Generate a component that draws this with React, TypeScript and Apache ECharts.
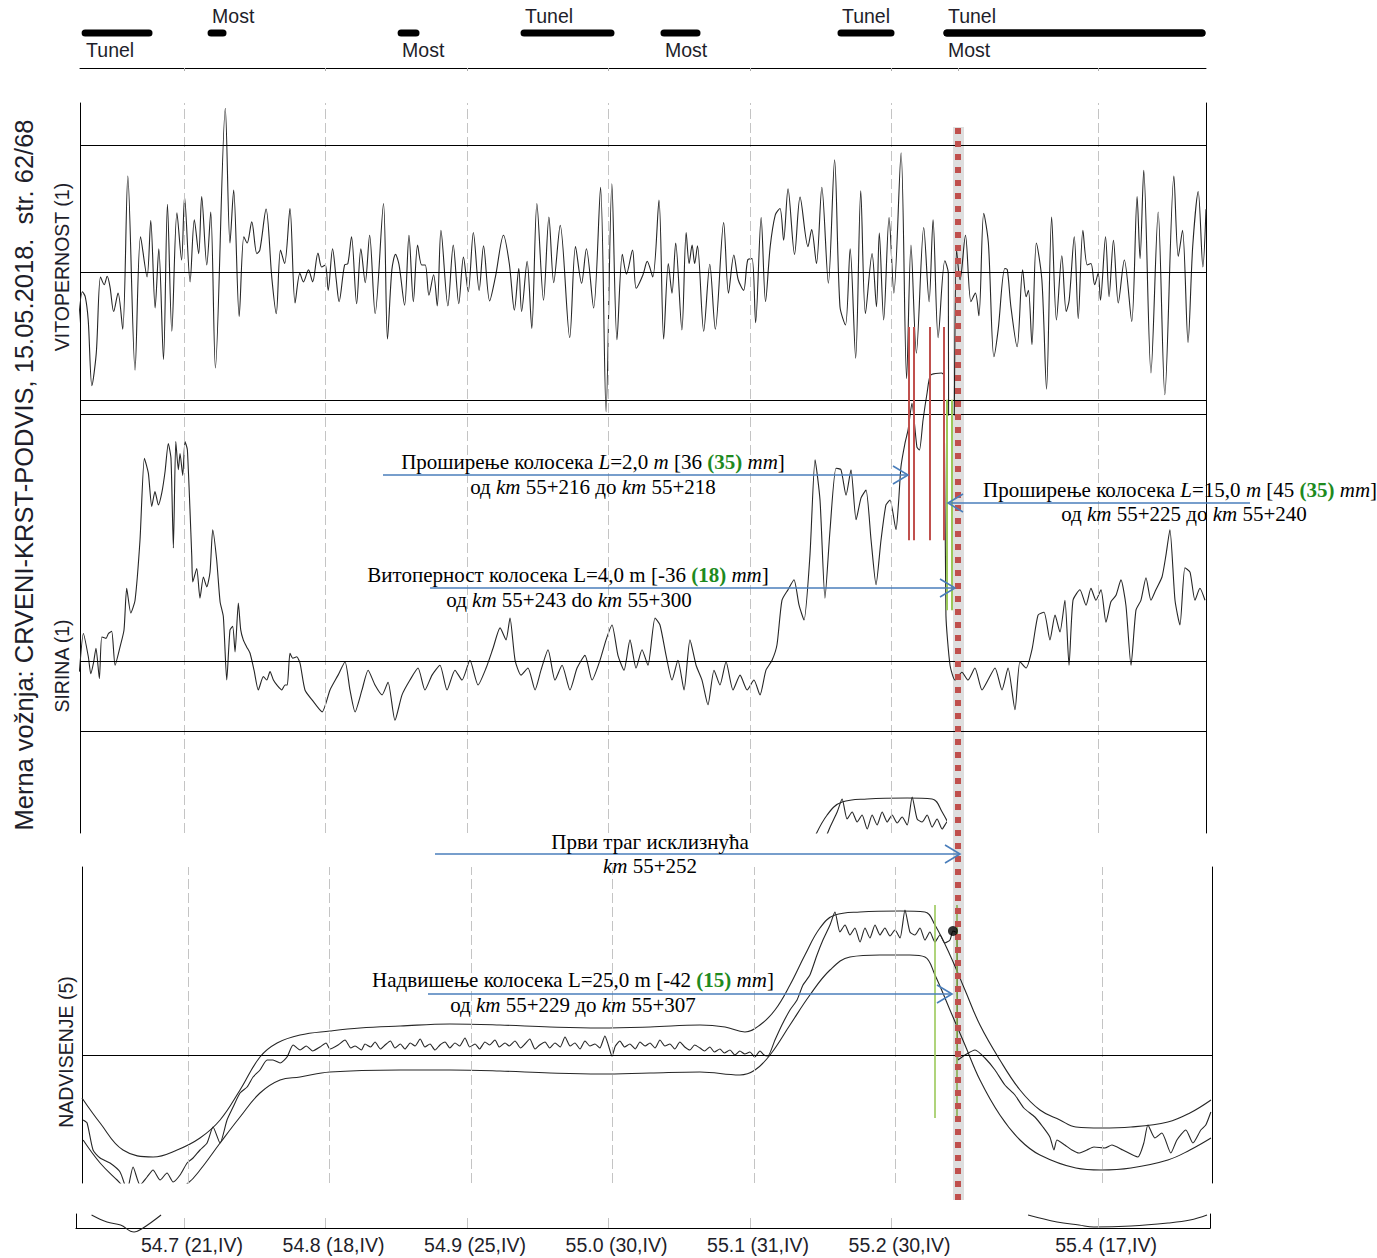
import React, { useEffect, useRef } from "react";
import * as echarts from "echarts";

// ---------- axis posts (chainage in m from km 54+000) ----------
const postKm = [700, 800, 900, 1000, 1100, 1200, 1346];
const postLabels = ["54.7 (21,IV)", "54.8 (18,IV)", "54.9 (25,IV)", "55.0 (30,IV)", "55.1 (31,IV)", "55.2 (30,IV)", "55.4 (17,IV)"];

// ---------- structures band ----------
const structStart = [628.0, 717.0, 851.3, 938.2, 1037.1, 1162.2, 1237.1, 1237.1];
const structEnd = [677.4, 729.7, 866.1, 1003.9, 1064.7, 1201.8, 1421.6, 1421.6];
const structName = ["Tunel", "Most", "Most", "Tunel", "Most", "Tunel", "Tunel", "Most"];
const structSide = [-1, 1, -1, 1, -1, 1, 1, -1];

// ---------- limits ----------
const twistLimits = [18, 0, -18];
const gaugeLimits = [35, 0, -10];
const cantLimits = [0];

// ---------- marks ----------
const redFlagKm = [1212.4, 1215.9, 1227.2, 1237.1];
const redFlagRange = [17.1, 47.3];
const greenGaugeKm = [1239.2, 1242.8];
const greenGaugeRange = [7.2, 37.0];
const greenCantKm = [1227.9, 1243.4];
const greenCantRange = [-63, 150];
const derailKm = 1247;
const cantDot = [1240.6, 124];

// ---------- VITOPERNOST (twist, mm) ----------
const twistData = [
[625.1,-8.1],[628.2,-2.7],[630.2,-3.4],[632.3,-6.7],[634.9,-16.0],[638.0,-11.4],[641.0,-0.6],[643.6,-1.7],[645.7,-0.5],[647.7,-2.0],[650.3,-5.5],[653.4,-2.9],[656.7,-8.0],[660.3,13.7],[665.4,-13.8],[669.3,5.1],[673.9,-0.6],[676.5,7.4],[679.6,-5.0],[682.2,3.4],[685.5,-12.3],[688.3,9.7],[691.4,-8.3],[695.0,8.5],[698.3,1.8],[700.4,10.7],[704.3,-1.3],[707.3,7.5],[710.4,2.7],[712.5,10.8],[716.1,1.1],[718.9,8.6],[722.2,-13.5],[729.2,23.3],[732.5,4.2],[735.1,11.7],[739.0,-6.2],[742.3,5.1],[744.6,4.2],[747.9,7.2],[751.5,2.7],[753.6,3.2],[758.0,9.0],[762.1,-0.8],[765.2,-5.8],[768.2,3.2],[771.1,1.3],[774.9,9.1],[778.5,-4.3],[781.9,-0.1],[784.4,-1.3],[788.0,0.4],[790.9,-1.3],[794.7,2.8],[797.3,0.8],[799.9,1.1],[801.9,-2.5],[805.0,3.4],[807.6,-1.0],[809.6,-4.1],[813.5,1.1],[815.8,1.3],[818.4,5.1],[822.0,-4.4],[825.0,3.4],[828.1,-1.4],[831.2,5.3],[835.1,-5.8],[841.0,9.8],[843.8,-9.4],[846.9,0.4],[849.5,2.6],[852.0,1.1],[855.9,-4.6],[859.0,5.3],[862.1,-4.1],[865.1,3.9],[868.0,1.1],[870.5,1.1],[873.1,-3.2],[876.4,-0.3],[879.0,-4.7],[881.6,6.0],[886.5,-4.7],[890.3,3.9],[894.2,-4.4],[897.5,2.2],[900.9,-2.7],[904.5,5.7],[908.6,-2.5],[911.7,3.8],[916.0,-4.0],[920.1,-0.6],[925.8,5.3],[929.9,1.3],[933.5,-5.3],[936.6,0.6],[938.6,-5.5],[942.5,1.6],[945.8,-7.9],[949.4,9.8],[954.1,-3.9],[957.9,7.9],[961.3,-1.4],[965.9,6.7],[972.6,-9.2],[976.7,3.7],[981.0,-1.5],[984.4,3.4],[989.5,-5.0],[994.4,12.1],[998.3,-19.7],[1002.4,12.6],[1006.0,-9.5],[1009.8,2.6],[1012.7,-0.2],[1017.0,3.2],[1019.6,-2.2],
[1024.4,-0.3],[1027.4,1.6],[1031.3,-0.6],[1035.7,10.3],[1039.0,-9.4],[1042.3,1.3],[1044.9,-2.9],[1047.5,4.2],[1051.9,-8.1],[1054.9,5.7],[1057.0,1.3],[1059.1,3.9],[1060.9,1.3],[1062.9,3.8],[1067.3,-8.3],[1071.6,1.2],[1075.5,-8.0],[1081.4,7.1],[1084.8,-2.9],[1088.6,2.5],[1091.7,-1.0],[1095.5,-2.5],[1098.4,1.8],[1101.5,2.0],[1104.0,-7.1],[1107.9,7.8],[1111.0,-4.1],[1114.3,3.7],[1117.9,8.2],[1121.2,9.1],[1123.8,4.6],[1126.9,11.9],[1131.5,2.6],[1135.4,10.7],[1141.0,3.7],[1143.6,6.1],[1147.0,1.3],[1150.8,12.1],[1155.4,-1.5],[1159.8,16.0],[1163.6,-4.8],[1167.5,-7.4],[1170.8,3.4],[1174.7,-12.1],[1178.3,11.6],[1181.6,-5.8],[1186.3,2.7],[1189.4,-4.8],[1191.4,5.6],[1194.5,-6.7],[1198.3,7.8],[1201.7,-2.9],[1206.8,17.0],[1210.7,-15.0],[1213.8,3.9],[1217.6,-11.4],[1222.8,6.4],[1226.6,-4.1],[1229.4,7.5],[1233.0,-9.2],[1237.7,1.7],[1240.2,-0.1],[1240.5,-36],[1243.0,-36],[1246.0,3.2],[1248.5,-1.0],[1252.3,5.3],[1256.2,-4.1],[1259.3,-2.9],[1261.8,-6.1],[1265.2,8.4],[1268.5,4.2],[1272.4,-11.9],[1275.4,-8.1],[1280.1,0.6],[1281.9,0.4],[1284.4,-4.8],[1288.8,-10.5],[1292.7,0.4],[1295.2,-3.4],[1296.8,-2.5],[1299.3,-10.2],[1302.4,4.2],[1306.3,-1.0],[1309.6,-16.5],[1313.2,7.9],[1316.6,-6.7],[1320.4,2.4],[1323.5,-5.5],[1325.6,-3.9],[1329.2,5.1],[1332.0,-6.5],[1335.3,6.0],[1338.4,1.1],[1341.0,1.3],[1343.6,-1.7],[1346.1,-0.1],[1347.7,-3.9],[1351.3,5.1],[1353.8,-3.4],[1356.9,4.6],[1360.3,-4.3],[1364.6,1.8],[1369.8,-6.9],[1373.6,10.8],[1375.7,2.0],[1378.3,14.5],[1383.4,-14.2],[1388.5,8.6],[1393.2,-17.3],[1399.6,13.7],[1402.7,2.3],[1405.7,6.0],[1409.6,-9.9],[1412.9,3.7],[1416.8,11.5],[1420.1,0.8],[1422.3,9.0]
];

// ---------- SIRINA (gauge, mm) ----------
const gaugeData = [
[626.1,-1.5],[628.9,3.9],[632.4,0.6],[634.1,-1.8],[636.0,-0.3],[637.8,1.8],[640.2,-2.5],[641.9,3.4],[644.9,3.2],[646.6,3.9],[648.9,4.2],[651.3,-0.6],[654.8,2.0],[657.6,4.4],[659.5,10.3],[662.4,6.8],[665.4,8.6],[668.9,17.1],[672.0,28.7],[674.8,26.6],[677.2,21.9],[679.5,24.0],[681.9,22.1],[684.3,23.8],[686.6,26.8],[688.9,30.8],[690.8,28.7],[692.5,16.0],[694.2,31.1],[696.0,27.1],[697.2,29.4],[699.1,26.3],[700.7,31.1],[702.4,29.9],[705.5,14.8],[706.2,11.2],[709.0,13.1],[711.3,8.9],[713.7,11.9],[716.1,10.5],[718.4,12.6],[720.3,18.6],[723.1,14.3],[725.5,8.4],[727.8,6.3],[730.2,-2.7],[732.5,4.4],[734.4,4.9],[736.1,1.3],[738.4,8.2],[740.1,4.4],[741.9,3.0],[744.3,2.0],[746.7,1.1],[749.5,-1.3],[752.5,-4.1],[756.1,-2.2],[758.5,-2.7],[760.8,-1.5],[763.2,-2.7],[766.0,-3.5],[769.1,-4.1],[771.4,-3.4],[773.0,-3.4],[774.9,1.1],[776.9,0.4],[779.7,0.6],[782.0,-0.3],
[785.5,-4.1],[790.5,-5.5],[797.6,-7.2],[803.2,-4.1],[808.9,-2.0],[813.8,-0.1],[817.3,-4.1],[820.9,-7.2],[825.8,-4.1],[830.1,-1.3],[835.0,-3.4],[840.0,-4.8],[844.2,-3.0],[849.1,-8.4],[854.1,-4.8],[859.7,-2.7],[865.4,-1.0],[870.3,-4.1],[875.3,-2.0],[880.9,-0.6],[885.9,-4.1],[891.5,-1.3],[896.5,-2.7],[902.1,0.1],[907.8,-3.4],[913.5,-1.0],[918.4,1.8],[923.4,4.7],[927.6,3.0],[930.4,6.1],[934.0,0.1],[938.2,-2.0],[943.1,-1.0],[948.1,-4.1],[952.3,-1.3],[957.3,1.6],[962.2,-2.7],[967.2,-0.6],[972.8,-4.1],[977.8,-1.0],[983.4,0.8],[988.4,-2.7],[994.0,0.1],[998.3,3.0],[1002.5,5.1],[1006.7,0.8],[1011.0,-1.3],[1015.2,3.0],[1019.5,-1.0],[1023.7,1.6],[1027.9,-0.6],[1032.9,6.1],[1036.4,5.1],[1040.7,0.8],[1044.9,-2.7],[1049.1,0.1],[1053.4,-4.1],[1057.6,3.0],[1061.9,-0.6],[1066.1,-2.7],[1070.3,-6.2],[1074.6,-1.3],[1078.8,-3.4],[1083.1,-0.1],[1088.0,-4.1],[1093.0,-2.0],[1098.0,-4.1],[1102.8,-2.7],[1107.1,-4.8],[1111.3,-1.3],[1115.6,0.1],[1119.1,2.3],[1122.6,8.6],[1126.9,10.1],[1131.1,11.5],[1134.7,7.9],[1138.2,5.8],[1142.4,15.0],[1146.0,28.5],[1149.5,22.8],[1153.0,8.9],[1156.6,18.6],[1160.8,27.3],[1164.3,27.1],[1167.9,23.5],[1171.4,27.1],[1175.0,20.0],[1178.5,23.1],[1182.0,24.2],[1185.6,17.1],[1189.1,10.8],[1192.6,17.1],[1196.1,22.1],[1199.0,22.8],[1203.2,18.6],[1205.0,22.4],[1206.7,27.5],[1209.6,30.9],[1211.7,32.7],[1214.5,36.5],[1218.0,30.3],[1219.8,29.9],[1222.3,34.1],[1225.2,38.0],[1227.6,40.5],[1235.4,40.8],[1237.1,40.5],[1238.5,6.5],[1241.4,-0.6],[1244.9,-2.7],[1249.8,-1.6],[1254.1,-2.7],[1259.0,-1.0],[1264.0,-4.1],[1268.2,-2.7],[1273.2,-1.0],[1278.1,-4.1],[1282.4,-1.0],[1287.3,-6.9],[1290.8,-0.1],[1295.1,-1.0],[1299.3,1.6],[1303.6,6.5],[1307.8,6.9],[1312.0,3.0],[1315.6,6.5],[1319.1,4.1],[1322.6,8.6],[1325.5,-0.6],[1328.3,8.6],[1333.2,10.1],[1337.5,7.9],[1341.0,10.3],[1344.5,8.6],[1348.1,10.1],[1351.6,5.5],[1355.1,8.4],[1358.7,9.3],[1362.2,11.5],[1365.7,7.9],[1369.3,-0.6],[1372.8,7.2],[1376.3,8.6],[1379.9,11.8],[1383.4,8.6],[1386.9,10.1],[1391.2,11.9],[1394.0,15.0],[1396.8,18.6],[1400.4,8.6],[1403.9,5.1],[1407.4,13.2],[1411.0,12.6],[1414.5,8.6],[1418.0,10.3],[1421.6,8.6]
];

// ---------- NADVISENJE (cant, mm) ----------
const cantUpper = [
[625.0,-43],[637.8,-68],[654.0,-95],[675.2,-102],[692.2,-95],[708.4,-83],[722.6,-65],[736.7,-35],[750.8,-2],[762.9,12],[779.1,20],[800.3,24],[821.5,27],[849.8,29],[885.1,31],[920.4,30],[955.8,28],[991.1,27],[1026.5,28],[1061.8,30],[1079.5,28],[1093.6,23],[1104.2,30],[1114.8,45],[1125.4,70],[1136.0,100],[1146.6,127],[1157.2,140],[1174.9,143],[1203.2,144],[1220.8,143],[1227.9,130],[1238.5,100],[1249.1,65],[1259.7,30],[1273.8,-5],[1288.0,-35],[1302.1,-55],[1316.2,-65],[1327.5,-72],[1345.2,-73],[1366.4,-72],[1392.5,-67],[1408.1,-58],[1423.0,-45]
];
const cantLower = [
[625.8,-85],[637.8,-108],[649.8,-125],[659.0,-137],[680.2,-145],[700.0,-128],[708.4,-115],[722.6,-88],[736.7,-62],[750.8,-38],[765.0,-25],[779.1,-22],[800.3,-17],[849.8,-15],[885.1,-15],[920.4,-16],[955.8,-18],[991.1,-19],[1026.5,-18],[1061.8,-17],[1090.0,-20],[1100.7,-15],[1111.3,0],[1125.4,30],[1139.5,60],[1153.7,85],[1167.8,98],[1189.0,100],[1210.2,100],[1220.8,98],[1227.9,80],[1238.5,45],[1249.1,10],[1259.7,-25],[1273.8,-60],[1288.0,-85],[1302.1,-100],[1327.5,-113],[1345.2,-115],[1366.4,-113],[1392.5,-105],[1408.1,-95],[1423.0,-83]
];
const cantCenter = [
[625.8,-65],[628.6,-68],[632.8,-95],[637.8,-103],[644.8,-108],[651.9,-117],[656.9,-135],[661.1,-112],[666.0,-130],[671.0,-122],[675.2,-115],[680.2,-125],[685.1,-118],[689.4,-127],[694.3,-120],[699.3,-108],[703.5,-103],[708.4,-95],[713.4,-88],[717.6,-72],[722.6,-88],[727.5,-65],[731.8,-52],[736.7,-38],[741.7,-32],[745.9,-22],[750.8,-15],[755.8,-5],[760.0,-5],[765.0,-8],[769.9,-2],[774.2,10],
[779.1,5],[783.5,9],[788.0,4],[793.2,8],[797.5,12],[800.3,6],[806.0,10],[810.9,15],[815.0,7],[818.0,9],[822.5,5],[825.0,11],[829.0,8],[832.1,13],[836.0,6],[839.2,10],[843.0,14],[846.2,7],[850.0,11],[853.3,6],[857.0,12],[860.4,9],[864.0,16],[867.4,8],[871.0,11],[874.5,5],[878.0,10],[881.6,13],[885.0,7],[888.6,12],[892.0,9],[895.7,17],[899.0,8],[902.8,11],[906.0,6],[909.8,13],[913.0,10],[916.9,15],[920.0,8],[924.0,12],[927.0,9],[931.0,14],[935.0,7],[938.1,11],[941.5,16],[945.2,6],[948.5,10],[952.3,13],[955.5,7],[959.3,12],[963.0,8],[966.4,18],[970.0,9],[973.4,12],[977.0,6],[980.5,14],[984.0,9],[987.6,11],[991.0,7],[994.6,19],[997.0,10],[999.6,-1],[1002.0,9],[1005.2,14],[1008.5,8],[1012.3,11],[1016.0,6],[1019.4,13],[1023.0,9],[1026.5,12],[1030.0,7],[1033.5,15],[1037.0,9],[1040.6,11],[1044.0,6],[1047.6,13],[1051.0,8],[1054.7,5],[1058.0,10],[1061.8,7],[1065.0,4],[1068.8,8],[1072.0,3],[1075.9,6],[1079.0,2],[1083.0,5],[1086.5,0],[1090.0,4],[1093.5,1],[1097.1,3],[1100.5,-2],[1104.2,4],[1107.0,0],[1109.8,-1],
[1114.8,15],[1119.7,30],[1125.4,45],[1130.4,55],[1134.6,70],[1139.5,80],[1144.5,100],[1148.7,115],[1153.7,130],[1157.2,143],[1160.7,123],[1164.3,130],[1167.8,120],[1171.3,127],[1174.9,113],[1178.4,127],[1181.9,117],[1185.5,130],[1189.0,120],[1192.5,127],[1196.1,119],[1199.6,125],[1203.2,117],[1206.7,145],[1210.2,123],[1213.7,120],[1217.3,127],[1220.8,115],[1224.3,123],[1227.9,113],[1231.4,120],[1234.9,112],[1238.5,115],[1240.6,124],[1243.4,122],[1244.1,-5],[1249.1,0],[1256.2,5],[1263.2,-3],[1270.3,-15],[1277.3,-30],[1284.4,-40],[1290.7,-53],[1298.5,-62],[1304.2,-72],[1309.1,-82],[1312.0,-95],[1314.1,-85],[1319.7,-90],[1324.7,-95],[1329.6,-98],[1335.3,-95],[1340.2,-92],[1348.0,-93],[1352.9,-90],[1360.7,-95],[1371.3,-102],[1375.5,-88],[1378.4,-70],[1383.3,-83],[1388.3,-78],[1394.6,-98],[1398.9,-85],[1405.2,-75],[1410.2,-88],[1415.8,-75],[1419.3,-70],[1422.9,-57]
];

// ---------- cut-off curve pieces along the bottom axis ----------
const bottomLeftPiece = [[634.7,13],[645.6,6],[655.2,3],[664.7,-4],[671.1,0],[683.8,13]];
const bottomRightPiece = [[1296.5,13],[1317.0,6],[1332.5,3],[1343.1,1],[1369.3,2],[1395.4,5],[1411.0,8],[1423.0,13]];

const SANS = '"Liberation Sans", Arial, sans-serif';
const SERIF = '"Liberation Serif", "Times New Roman", serif';
const SIGNAL = "#262626";
const RED = "#c0504d";
const GREEN = "#9bc95a";
const BLUE = "#4a7ebb";
const INK = "#1e1e2a";
const GRID_DASH = { color: "#c4c4c4", width: 1, type: [10, 4] as any };

function hiddenX(gridIndex: number, min: number, max: number) {
  return { type: "value", gridIndex, min, max, axisLine: { show: false }, axisTick: { show: false }, axisLabel: { show: false }, splitLine: { show: false } };
}
function hiddenY(gridIndex: number, min: number, max: number) {
  return { type: "value", gridIndex, min, max, axisLine: { show: false }, axisTick: { show: false }, axisLabel: { show: false }, splitLine: { show: false } };
}
function frameY(gridIndex: number, min: number, max: number, position: string) {
  return {
    type: "value", gridIndex, min, max, position,
    axisLine: { show: true, onZero: false, lineStyle: { color: "#000", width: 1 } },
    axisTick: { show: false }, axisLabel: { show: false }, splitLine: { show: false },
  };
}
function lineSeries(data: number[][], xi: number, yi: number, extra: any = {}) {
  return {
    type: "line", data, xAxisIndex: xi, yAxisIndex: yi, symbol: "none", showSymbol: false,
    silent: true, animation: false, lineStyle: { color: SIGNAL, width: 1.1 }, z: 2, ...extra,
  };
}
function markOnly(xi: number, yi: number, markLine: any, z = 3) {
  return { type: "line", data: [], xAxisIndex: xi, yAxisIndex: yi, silent: true, z, markLine: { silent: true, symbol: ["none", "none"], label: { show: false }, animation: false, ...markLine } };
}

const ANN_SIZE = 21;
const LINE_TEXT = {
  n: { font: `${ANN_SIZE}px ${SERIF}`, fill: "#000" },
  i: { font: `italic ${ANN_SIZE}px ${SERIF}`, fill: "#000" },
  g: { font: `bold ${ANN_SIZE}px ${SERIF}`, fill: "#1e8a1e" },
};

const annotations = [
  { x: 593, y: 462, align: "center", text: "{n|Проширење колосека }{i|L}{n|=2,0 }{i|m}{n| [36 }{g|(35)}{n| }{i|mm}{n|]}" },
  { x: 593, y: 487, align: "center", text: "{n|од }{i|km}{n| 55+216 до }{i|km}{n| 55+218}" },
  { x: 983, y: 490, align: "left", text: "{n|Проширење колосека }{i|L}{n|=15,0 }{i|m}{n| [45 }{g|(35)}{n| }{i|mm}{n|]}" },
  { x: 1184, y: 514, align: "center", text: "{n|од }{i|km}{n| 55+225 до }{i|km}{n| 55+240}" },
  { x: 568, y: 575, align: "center", text: "{n|Витоперност колосека L=4,0 m [-36 }{g|(18)}{n| }{i|mm}{n|]}" },
  { x: 569, y: 600, align: "center", text: "{n|од }{i|km}{n| 55+243 do }{i|km}{n| 55+300}" },
  { x: 650, y: 842, align: "center", text: "{n|Први траг исклизнућа}" },
  { x: 650, y: 866, align: "center", text: "{i|km}{n| 55+252}" },
  { x: 573, y: 980, align: "center", text: "{n|Надвишење колосека L=25,0 m [-42 }{g|(15)}{n| }{i|mm}{n|]}" },
  { x: 573, y: 1005, align: "center", text: "{n|од }{i|km}{n| 55+229 до }{i|km}{n| 55+307}" },
];
const arrows = [
  { x1: 383, x2: 908, y: 475 },
  { x1: 1250, x2: 948, y: 503 },
  { x1: 430, x2: 955, y: 588 },
  { x1: 435, x2: 960, y: 854 },
  { x1: 428, x2: 952, y: 994 },
];

function buildOption() {
  const A = { min: 626.5, max: 1422.3 };
  const B = { min: 625.0, max: 1423.7 };
  const graphic: any[] = [
    { type: "text", x: 24, y: 475, rotation: Math.PI / 2, z: 50, style: { text: "Merna vožnja: CRVENI-KRST-PODVIS, 15.05.2018.  str. 62/68", font: `25.5px ${SANS}`, fill: INK, align: "center", verticalAlign: "middle" } },
    { type: "text", x: 62, y: 267, rotation: Math.PI / 2, z: 50, style: { text: "VITOPERNOST (1)", font: `19.5px ${SANS}`, fill: INK, align: "center", verticalAlign: "middle" } },
    { type: "text", x: 62, y: 666, rotation: Math.PI / 2, z: 50, style: { text: "SIRINA (1)", font: `19.5px ${SANS}`, fill: INK, align: "center", verticalAlign: "middle" } },
    { type: "text", x: 66, y: 1052, rotation: Math.PI / 2, z: 50, style: { text: "NADVISENJE (5)", font: `19.5px ${SANS}`, fill: INK, align: "center", verticalAlign: "middle" } },
  ];
  arrows.forEach((a) => {
    const d = Math.sign(a.x2 - a.x1);
    graphic.push({ type: "line", z: 60, shape: { x1: a.x1, y1: a.y, x2: a.x2, y2: a.y }, style: { stroke: BLUE, lineWidth: 1.6 } });
    graphic.push({ type: "polyline", z: 60, shape: { points: [[a.x2 - d * 15, a.y - 9], [a.x2, a.y], [a.x2 - d * 15, a.y + 9]] }, style: { stroke: BLUE, lineWidth: 1.6, fill: "none" } });
  });
  annotations.forEach((t) => {
    graphic.push({ type: "text", x: t.x, y: t.y, z: 70, style: { text: t.text, rich: LINE_TEXT, align: t.align, verticalAlign: "middle", font: `${ANN_SIZE}px ${SERIF}` } });
  });

  return {
    animation: false,
    backgroundColor: "#ffffff",
    grid: [
      { left: 80, top: 8, width: 1126, height: 60 }, // 0 band
      { left: 80, top: 103, width: 1126, height: 730 }, // 1 frame twist+gauge
      { left: 80, top: 103, width: 1126, height: 312 }, // 2 twist
      { left: 80, top: 320, width: 1126, height: 513 }, // 3 gauge
      { left: 82, top: 790, width: 863, height: 43 }, // 4 cut-off cant piece
      { left: 82, top: 867, width: 1130, height: 316 }, // 5 cant
      { left: 76, top: 1214, width: 1134, height: 14 }, // 6 bottom axis
      { left: 80, top: 127, width: 1126, height: 1073 }, // 7 overlay
    ],
    xAxis: [
      {
        type: "value", gridIndex: 0, min: A.min, max: A.max,
        axisLine: { show: true, onZero: false, lineStyle: { color: "#000", width: 1 } },
        axisTick: { show: true, customValues: [...postKm, derailKm], length: 3, lineStyle: { color: "#aaa" } },
        axisLabel: { show: false }, splitLine: { show: false },
      },
      hiddenX(1, A.min, A.max),
      hiddenX(2, A.min, A.max),
      hiddenX(3, A.min, A.max),
      hiddenX(4, 620.0, 1229.9),
      hiddenX(5, B.min, B.max),
      {
        type: "value", gridIndex: 6, min: 623.7, max: 1425.1,
        axisLine: { show: true, onZero: false, lineStyle: { color: "#000", width: 1.2 } },
        axisTick: { show: false }, splitLine: { show: false },
        axisLabel: {
          show: true, customValues: postKm, margin: 7, padding: [0, 0, 0, 16],
          fontSize: 19.5, fontFamily: SANS, color: INK,
          formatter: (v: number) => { const i = postKm.findIndex((p) => Math.abs(p - v) < 0.01); return i >= 0 ? postLabels[i] : ""; },
        },
      },
      hiddenX(7, A.min, A.max),
    ],
    yAxis: [
      hiddenY(0, 0, 60), // 0
      frameY(1, 0, 1, "left"), // 1
      frameY(1, 0, 1, "right"), // 2
      hiddenY(2, -20.16, 24.04), // 3
      hiddenY(3, -24.36, 48.3), // 4
      hiddenY(4, 109, 152), // 5
      frameY(5, -128, 188, "left"), // 6
      frameY(5, -128, 188, "right"), // 7
      frameY(6, 0, 14, "left"), // 8
      frameY(6, 0, 14, "right"), // 9
      hiddenY(7, 0, 1), // 10
    ],
    graphic,
    series: [
      {
        type: "custom", xAxisIndex: 0, yAxisIndex: 0, silent: true, z: 5,
        data: structStart.map((s, i) => [s, structEnd[i], structSide[i]]),
        renderItem: (params: any, api: any) => {
          const i = params.dataIndex;
          const a = api.coord([api.value(0), 35]);
          const b = api.coord([api.value(1), 35]);
          const side = api.value(2);
          return {
            type: "group",
            children: [
              { type: "line", shape: { x1: a[0] + 3, y1: a[1], x2: b[0] - 3, y2: b[1] }, style: { stroke: "#000", lineWidth: 7, lineCap: "round" } },
              { type: "text", x: a[0] + 4, y: a[1] - side * 17, style: { text: structName[i], fill: INK, font: `19.5px ${SANS}`, align: "left", verticalAlign: "middle" } },
            ],
          };
        },
      },
      // grid lines of twist + gauge frame
      markOnly(1, 1, { lineStyle: GRID_DASH, data: postKm.map((p) => ({ xAxis: p })) }, 1),
      // twist
      lineSeries(twistData, 2, 3, { smooth: 0.3 }),
      markOnly(2, 3, { lineStyle: { color: "#000", width: 1.2, type: "solid" }, data: twistLimits.map((v) => ({ yAxis: v })) }, 3),
      // gauge
      lineSeries(gaugeData, 3, 4, { smooth: 0.2 }),
      markOnly(3, 4, { lineStyle: { color: "#000", width: 1.2, type: "solid" }, data: gaugeLimits.map((v) => ({ yAxis: v })) }, 3),
      markOnly(3, 4, { lineStyle: { color: GREEN, width: 2, type: "solid" }, data: greenGaugeKm.map((k) => [{ coord: [k, greenGaugeRange[0]] }, { coord: [k, greenGaugeRange[1]] }]) }, 6),
      markOnly(3, 4, { lineStyle: { color: RED, width: 2, type: "solid" }, data: redFlagKm.map((k) => [{ coord: [k, redFlagRange[0]] }, { coord: [k, redFlagRange[1]] }]) }, 7),
      // cut-off piece of the cant plot
      lineSeries(cantUpper, 4, 5, { smooth: 0.4 }),
      lineSeries(cantCenter, 4, 5, { smooth: 0.2 }),
      // cant
      markOnly(5, 6, { lineStyle: GRID_DASH, data: postKm.map((p) => ({ xAxis: p })) }, 1),
      markOnly(5, 6, { lineStyle: { color: "#000", width: 1.2, type: "solid" }, data: cantLimits.map((v) => ({ yAxis: v })) }, 3),
      lineSeries(cantUpper, 5, 6, { smooth: 0.4 }),
      lineSeries(cantCenter, 5, 6, { smooth: 0.2 }),
      lineSeries(cantLower, 5, 6, { smooth: 0.4 }),
      markOnly(5, 6, { lineStyle: { color: GREEN, width: 1.6, type: "solid" }, data: greenCantKm.map((k) => [{ coord: [k, greenCantRange[0]] }, { coord: [k, greenCantRange[1]] }]) }, 6),
      { type: "scatter", xAxisIndex: 5, yAxisIndex: 6, data: [cantDot], symbolSize: 10, itemStyle: { color: "#000" }, silent: true, z: 8 },
      // bottom axis
      markOnly(6, 8, { lineStyle: GRID_DASH, data: postKm.map((p) => ({ xAxis: p })) }, 1),
      lineSeries(bottomLeftPiece, 6, 8, { smooth: 0.4, clip: false }),
      lineSeries(bottomRightPiece, 6, 8, { smooth: 0.4, clip: false }),
      // first derailment trace: soft halo + dotted red line
      markOnly(7, 10, { lineStyle: { color: "rgba(0,0,0,0.13)", width: 11, type: "solid" }, data: [{ xAxis: derailKm }] }, 19),
      markOnly(7, 10, { lineStyle: { color: RED, width: 6, type: [6, 7] }, data: [{ xAxis: derailKm }] }, 20),
    ],
  };
}

export default function App() {
  const ref = useRef<HTMLDivElement>(null);
  useEffect(() => {
    const chart = echarts.init(ref.current!, null, { renderer: "svg" });
    chart.setOption(buildOption() as any);
    return () => chart.dispose();
  }, []);
  return <div ref={ref} style={{ position: "fixed", left: 0, top: 0, width: 1377, height: 1258, background: "#fff" }} />;
}
